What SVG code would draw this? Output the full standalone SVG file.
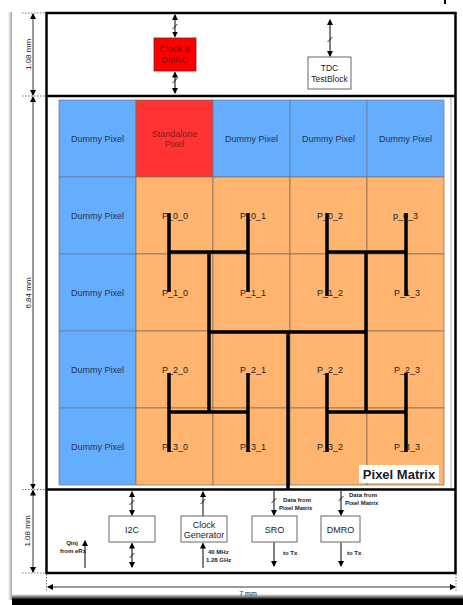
<svg xmlns="http://www.w3.org/2000/svg" width="463" height="605" viewBox="0 0 463 605">
<defs>
<marker id="ah" markerWidth="6" markerHeight="6" refX="5" refY="3" orient="auto-start-reverse" markerUnits="userSpaceOnUse">
<path d="M0,0 L6,3 L0,6 z" fill="#000"/>
</marker>
<linearGradient id="bot" x1="0" y1="0" x2="0" y2="1">
<stop offset="0" stop-color="#000" stop-opacity="0"/>
<stop offset="0.5" stop-color="#000" stop-opacity="1"/>
<stop offset="1" stop-color="#000" stop-opacity="1"/>
</linearGradient>
<linearGradient id="lft" x1="0" y1="0" x2="1" y2="0">
<stop offset="0" stop-color="#999" stop-opacity="0"/>
<stop offset="1" stop-color="#888" stop-opacity="0.8"/>
</linearGradient>
</defs>
<style>
.frame{fill:none;stroke:#000;stroke-width:2.5}
.dot{stroke:#777;stroke-width:1;stroke-dasharray:1.5,1.5;fill:none}
.dim{stroke:#000;stroke-width:0.8;fill:none}
.arr{stroke:#000;stroke-width:1;fill:none}
.sl{stroke:#000;stroke-width:0.8}
.blue{fill:#64adff;stroke:#6b7a8a;stroke-width:0.7}
.org{fill:#ffb470;stroke:#7a6a55;stroke-width:0.7}
.red{fill:#ff3333;stroke:#7a6a55;stroke-width:0.7}
.t{font-family:"Liberation Sans",Arial,sans-serif;text-anchor:middle}
.cell{font-size:9px;fill:#2c3446}
.pl{font-size:9px;fill:#222}
.box{fill:#fff;stroke:#666;stroke-width:1}
.bl{font-size:9px;fill:#222}
.sm{font-family:"Liberation Sans",Arial,sans-serif;font-size:6px;font-weight:bold;fill:#222}
.tree{stroke:#000;stroke-width:3.5;fill:none}
.dm{font-family:"Liberation Sans",Arial,sans-serif;font-size:8px;fill:#222;text-anchor:middle}
</style>
<rect width="463" height="605" fill="#fff"/>
<rect x="8" y="12" width="4" height="588" fill="url(#lft)"/>
<rect x="12" y="594" width="451" height="11" fill="url(#bot)"/>
<rect x="444" y="0" width="2" height="4" fill="#000"/>

<g id="frame">
<rect class="frame" x="46.5" y="13" width="409" height="560"/>
<line class="frame" x1="46.5" y1="96" x2="455.5" y2="96"/>
<line class="frame" x1="46.5" y1="489.5" x2="455.5" y2="489.5"/>
<line x1="451" y1="97" x2="451" y2="488" stroke="#999" stroke-width="0.8"/>
</g>

<g id="dimensions">
<line class="dot" x1="22" y1="13" x2="46" y2="13"/>
<line class="dot" x1="22" y1="96" x2="46" y2="96"/>
<line class="dot" x1="22" y1="489.5" x2="46" y2="489.5"/>
<line class="dot" x1="22" y1="573" x2="46" y2="573"/>
<line class="dim" x1="33" y1="14" x2="33" y2="95" marker-start="url(#ah)" marker-end="url(#ah)"/>
<line class="dim" x1="33" y1="97" x2="33" y2="488.5" marker-start="url(#ah)" marker-end="url(#ah)"/>
<line class="dim" x1="33" y1="490.5" x2="33" y2="572" marker-start="url(#ah)" marker-end="url(#ah)"/>
<text class="dm" transform="translate(31,54.5) rotate(-90)">1.08 mm</text>
<text class="dm" transform="translate(31,293) rotate(-90)">6.84 mm</text>
<text class="dm" transform="translate(30,531) rotate(-90)">1.08 mm</text>
<line class="dot" x1="46.5" y1="574" x2="46.5" y2="592"/>
<line class="dot" x1="456" y1="574" x2="456" y2="592"/>
<line class="dim" x1="48" y1="587" x2="455" y2="587" marker-start="url(#ah)" marker-end="url(#ah)"/>
<text class="dm" x="248" y="596" style="font-size:7px">7 mm</text>
</g>

<g id="clock-dmro">
<rect x="154" y="38" width="42" height="33" fill="#ff0000" stroke="#8a1a1a" stroke-width="0.8"/>
<text class="t" x="175" y="52" style="font-size:9px;fill:#7a1010">Clock &amp;</text>
<text class="t" x="175" y="62.5" style="font-size:9px;fill:#7a1010">DMRO</text>
</g>
<g id="tdc-testblock">
<rect class="box" x="308" y="57" width="43" height="32"/>
<text class="t" x="329.5" y="71" style="font-size:8.5px;fill:#222">TDC</text>
<text class="t" x="329.5" y="81.5" style="font-size:8.5px;fill:#222">TestBlock</text>
</g>

<g id="pixel-matrix">
<rect class="blue" x="59" y="100" width="77" height="77"/>
<rect class="red" x="136" y="100" width="77" height="77"/>
<rect class="blue" x="213" y="100" width="77" height="77"/>
<rect class="blue" x="290" y="100" width="77" height="77"/>
<rect class="blue" x="367" y="100" width="77" height="77"/>
<rect class="blue" x="59" y="177" width="77" height="77"/>
<rect class="blue" x="59" y="254" width="77" height="77"/>
<rect class="blue" x="59" y="331" width="77" height="77"/>
<rect class="blue" x="59" y="408" width="77" height="77"/>
<rect class="org" x="136" y="177" width="77" height="77"/>
<rect class="org" x="213" y="177" width="77" height="77"/>
<rect class="org" x="290" y="177" width="77" height="77"/>
<rect class="org" x="367" y="177" width="77" height="77"/>
<rect class="org" x="136" y="254" width="77" height="77"/>
<rect class="org" x="213" y="254" width="77" height="77"/>
<rect class="org" x="290" y="254" width="77" height="77"/>
<rect class="org" x="367" y="254" width="77" height="77"/>
<rect class="org" x="136" y="331" width="77" height="77"/>
<rect class="org" x="213" y="331" width="77" height="77"/>
<rect class="org" x="290" y="331" width="77" height="77"/>
<rect class="org" x="367" y="331" width="77" height="77"/>
<rect class="org" x="136" y="408" width="77" height="77"/>
<rect class="org" x="213" y="408" width="77" height="77"/>
<rect class="org" x="290" y="408" width="77" height="77"/>
<rect class="org" x="367" y="408" width="77" height="77"/>
<text class="t cell" x="97.5" y="141.5">Dummy Pixel</text>
<text class="t" x="174.5" y="136.5" style="font-size:9px;fill:#8a1a1a">Standalone</text>
<text class="t" x="174.5" y="146.5" style="font-size:9px;fill:#8a1a1a">Pixel</text>
<text class="t cell" x="251.5" y="141.5">Dummy Pixel</text>
<text class="t cell" x="328.5" y="141.5">Dummy Pixel</text>
<text class="t cell" x="405.5" y="141.5">Dummy Pixel</text>
<text class="t cell" x="97.5" y="218.5">Dummy Pixel</text>
<text class="t cell" x="97.5" y="295.5">Dummy Pixel</text>
<text class="t cell" x="97.5" y="372.5">Dummy Pixel</text>
<text class="t cell" x="97.5" y="449.5">Dummy Pixel</text>
<text class="t pl" x="175" y="218.5">P_0_0</text>
<text class="t pl" x="253" y="218.5">P_0_1</text>
<text class="t pl" x="330" y="218.5">P_0_2</text>
<text class="t pl" x="405.5" y="218.5">p_0_3</text>
<text class="t pl" x="175" y="295.5">P_1_0</text>
<text class="t pl" x="253" y="295.5">P_1_1</text>
<text class="t pl" x="330" y="295.5">P_1_2</text>
<text class="t pl" x="407" y="295.5">P_1_3</text>
<text class="t pl" x="175" y="372.5">P_2_0</text>
<text class="t pl" x="253" y="372.5">P_2_1</text>
<text class="t pl" x="330" y="372.5">P_2_2</text>
<text class="t pl" x="407" y="372.5">P_2_3</text>
<text class="t pl" x="175" y="449.5">P_3_0</text>
<text class="t pl" x="253" y="449.5">P_3_1</text>
<text class="t pl" x="330" y="449.5">P_3_2</text>
<text class="t pl" x="407" y="449.5">P_3_3</text>
<rect x="359" y="465" width="80" height="18" fill="#fff"/>
<text x="399" y="479" style="font-family:'Liberation Sans',Arial,sans-serif;font-size:13px;font-weight:bold;fill:#1a1a2a;text-anchor:middle">Pixel Matrix</text>
</g>

<g id="h-tree">
<path class="tree" d="M169,213 V292 M248,213 V292 M169,252 H248 M327,213 V296 M406,213 V296 M327,252 H406 M169,373 V452 M248,373 V452 M169,412 H248 M327,373 V452 M406,373 V452 M327,412 H406 M209,252 V412 M366,252 V412 M209,332 H366 M288,332 V490"/>
</g>

<g id="i2c">
<rect class="box" x="109" y="516" width="46" height="26"/>
<text class="t bl" x="132" y="532.5">I2C</text>
</g>
<g id="clock-generator">
<rect class="box" x="181" y="516" width="46" height="26"/>
<text class="t bl" x="204" y="527.5">Clock</text>
<text class="t bl" x="204" y="538">Generator</text>
</g>
<g id="sro">
<rect class="box" x="252" y="516" width="45" height="26"/>
<text class="t bl" x="274.5" y="532.5">SRO</text>
</g>
<g id="dmro">
<rect class="box" x="321" y="516" width="39" height="26"/>
<text class="t bl" x="340.5" y="532.5">DMRO</text>
</g>

<g id="connectors">
<line class="arr" x1="175" y1="15" x2="175" y2="36.5" marker-start="url(#ah)" marker-end="url(#ah)"/>
<line class="sl" x1="172.5" y1="29" x2="177.5" y2="24"/>
<line class="arr" x1="175" y1="72.5" x2="175" y2="93" marker-start="url(#ah)" marker-end="url(#ah)"/>
<line class="sl" x1="172.5" y1="83" x2="177.5" y2="78"/>
<line class="arr" x1="330" y1="20" x2="330" y2="56" marker-start="url(#ah)" marker-end="url(#ah)"/>
<line class="sl" x1="327.5" y1="42" x2="332.5" y2="37"/>

<line class="arr" x1="132" y1="492" x2="132" y2="515" marker-start="url(#ah)" marker-end="url(#ah)"/>
<line class="sl" x1="129.5" y1="505" x2="134.5" y2="500"/>
<line class="arr" x1="132" y1="543.5" x2="132" y2="567" marker-start="url(#ah)" marker-end="url(#ah)"/>
<line class="sl" x1="129.5" y1="558" x2="134.5" y2="553"/>
<line class="arr" x1="203" y1="516" x2="203" y2="492" marker-end="url(#ah)"/>
<line class="sl" x1="200.5" y1="504" x2="205.5" y2="499"/>
<line class="arr" x1="203" y1="568" x2="203" y2="543.5" marker-end="url(#ah)"/>
<line class="arr" x1="274" y1="491" x2="274" y2="515" marker-end="url(#ah)"/>
<line class="sl" x1="271.5" y1="503" x2="276.5" y2="498"/>
<line class="arr" x1="274" y1="542.5" x2="274" y2="566" marker-end="url(#ah)"/>
<line class="arr" x1="341" y1="491" x2="341" y2="515" marker-end="url(#ah)"/>
<line class="sl" x1="338.5" y1="501" x2="343.5" y2="496"/>
<line class="arr" x1="341" y1="542.5" x2="341" y2="566" marker-end="url(#ah)"/>
<line class="arr" x1="85" y1="568" x2="85" y2="541" marker-end="url(#ah)"/>

<text class="sm" x="283" y="502">Data from</text>
<text class="sm" x="279" y="510">Pixel Matrix</text>
<text class="sm" x="349" y="497">Data from</text>
<text class="sm" x="345" y="505">Pixel Matrix</text>
<text class="sm" x="283" y="555">to Tx</text>
<text class="sm" x="347" y="555">to Tx</text>
<text class="sm" x="208" y="554">40 MHz</text>
<text class="sm" x="206" y="562">1.28 GHz</text>
<text class="sm" x="72" y="545" text-anchor="middle">Qinj</text>
<text class="sm" x="73" y="553" text-anchor="middle">from eRx</text>
</g>
</svg>
